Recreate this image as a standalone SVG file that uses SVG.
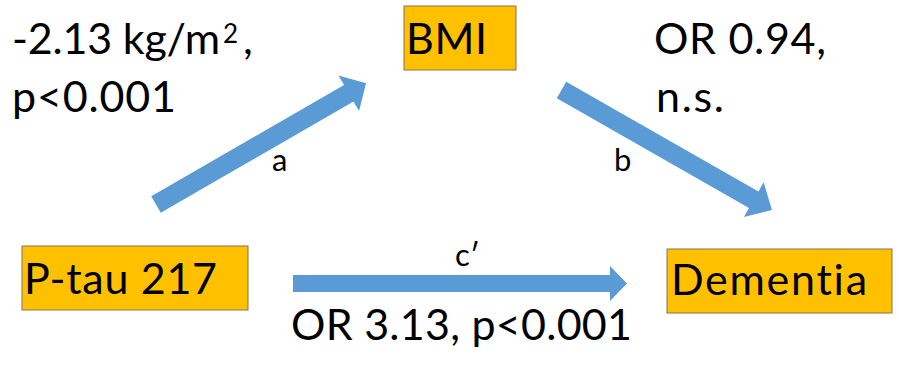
<svg xmlns="http://www.w3.org/2000/svg" width="899" height="372" viewBox="0 0 899 372">
  <style>
    .bg { fill: #ffffff; }
    .box { fill: #FFC000; stroke: #857550; stroke-width: 1; }
    .big { font-family: Lato, "Open Sans", sans-serif; font-size: 43px; fill: #000000; font-variant-ligatures: none; }
    .sup { font-family: Lato, "Open Sans", sans-serif; font-size: 26px; fill: #000000; }
    .lbl { font-family: Lato, "Open Sans", sans-serif; font-size: 31px; fill: #000000; }
    .arrow { fill: #5B9BD5; stroke: none; }
  </style>
  <rect class="bg" x="0" y="0" width="899" height="372"/>

  <!-- connectors: block arrows -->
  <g id="connectors">
    <polygon class="arrow" transform="translate(156,204.5) rotate(-30)"
             points="0,-9.5 222.6,-9.5 222.6,-20.5 242.6,0 222.6,20.5 222.6,9.5 0,9.5"/>
    <polygon class="arrow" transform="translate(561.5,90) rotate(29.7)"
             points="0,-9.5 221.3,-9.5 221.3,-20 242.3,0 221.3,20 221.3,9.5 0,9.5"/>
    <polygon class="arrow"
             points="293,275 610,275 610,266 627,283.5 610,301 610,292 293,292"/>
    <text class="lbl" x="272" y="171">a</text>
    <text class="lbl" x="614" y="171">b</text>
    <text class="lbl" x="455" y="266">c′</text>
  </g>

  <!-- path statistics -->
  <g id="stat-a">
    <text class="big" x="12" y="54" textLength="208">-2.13 kg/m</text>
    <text class="sup" x="223" y="43">2</text>
    <text class="big" x="243" y="54">,</text>
    <text class="big" x="12" y="112" textLength="164">p&lt;0.001</text>
  </g>
  <g id="stat-b">
    <text class="big" x="654" y="54" textLength="172">OR 0.94,</text>
    <text class="big" x="656" y="112" textLength="68">n.s.</text>
  </g>
  <g id="stat-c">
    <text class="big" x="291" y="340" textLength="341">OR 3.13, p&lt;0.001</text>
  </g>

  <!-- nodes -->
  <g id="node-bmi">
    <rect class="box" x="404" y="6" width="112" height="64"/>
    <text class="big" x="406" y="54" textLength="81">BMI</text>
  </g>
  <g id="node-ptau">
    <rect class="box" x="22" y="246" width="226" height="64"/>
    <text class="big" x="24" y="294" textLength="193">P-tau 217</text>
  </g>
  <g id="node-dementia">
    <rect class="box" x="667" y="249" width="225" height="64"/>
    <text class="big" x="671" y="295" textLength="196">Dementia</text>
  </g>
</svg>
